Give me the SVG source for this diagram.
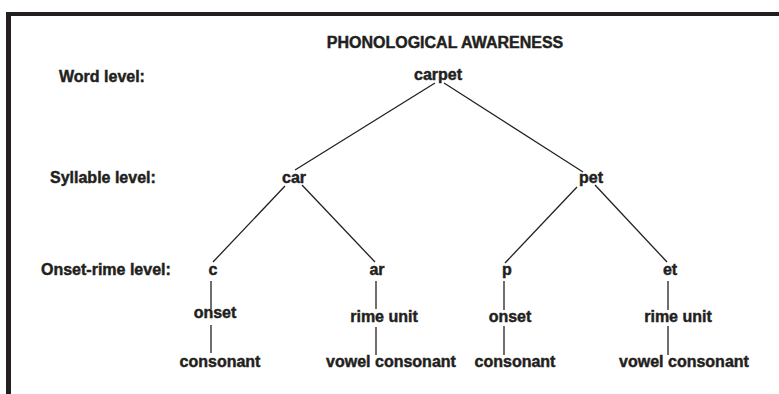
<svg xmlns="http://www.w3.org/2000/svg" width="779" height="394" viewBox="0 0 779 394">
<style>
text{font-family:"Liberation Sans",Arial,sans-serif;font-weight:bold;font-size:16px;fill:#231f20;stroke:#231f20;stroke-width:0.45}
.m{text-anchor:middle}
.ln line{stroke:#231f20;stroke-width:1.3}
</style>
<rect width="779" height="394" fill="#fff"/>
<g id="frame">
<rect x="6" y="12" width="773" height="4" fill="#231f20"/>
<rect x="6" y="12" width="5" height="382" fill="#231f20"/>
</g>
<g id="title"><text x="445" y="48" class="m">PHONOLOGICAL AWARENESS</text></g>
<g id="levels">
<text x="59" y="82">Word level:</text>
<text x="50" y="183">Syllable level:</text>
<text x="41" y="275">Onset-rime level:</text>
</g>
<g class="ln" id="connectors">
<line x1="435" y1="83" x2="295" y2="170"/>
<line x1="444" y1="83" x2="583" y2="172"/>
<line x1="285" y1="186" x2="213" y2="262"/>
<line x1="302" y1="185" x2="375" y2="262"/>
<line x1="577" y1="187" x2="505" y2="263"/>
<line x1="595" y1="185" x2="667" y2="262"/>
<line x1="211" y1="281" x2="211" y2="309"/>
<line x1="211" y1="325" x2="211" y2="353"/>
<line x1="376" y1="281" x2="376" y2="309"/>
<line x1="376" y1="327" x2="376" y2="355"/>
<line x1="504" y1="281" x2="504" y2="310"/>
<line x1="504" y1="326" x2="504" y2="355"/>
<line x1="668" y1="281" x2="668" y2="310"/>
<line x1="668" y1="326" x2="668" y2="355"/>
</g>
<g id="carpet"><text x="438" y="80" class="m">carpet</text></g>
<g id="car"><text x="294" y="183" class="m">car</text></g>
<g id="pet"><text x="591" y="183" class="m">pet</text></g>
<g id="c"><text x="213" y="275" class="m">c</text></g>
<g id="ar"><text x="377" y="275" class="m">ar</text></g>
<g id="p"><text x="507" y="275" class="m">p</text></g>
<g id="et"><text x="670" y="275" class="m">et</text></g>
<g id="onset1"><text x="215" y="318" class="m">onset</text></g>
<g id="rime1"><text x="384" y="322" class="m">rime unit</text></g>
<g id="onset2"><text x="510" y="322" class="m">onset</text></g>
<g id="rime2"><text x="678" y="322" class="m">rime unit</text></g>
<g id="cons1"><text x="220" y="367" class="m">consonant</text></g>
<g id="vc1"><text x="391" y="367" class="m">vowel consonant</text></g>
<g id="cons2"><text x="515" y="367" class="m">consonant</text></g>
<g id="vc2"><text x="684" y="367" class="m">vowel consonant</text></g>
</svg>
